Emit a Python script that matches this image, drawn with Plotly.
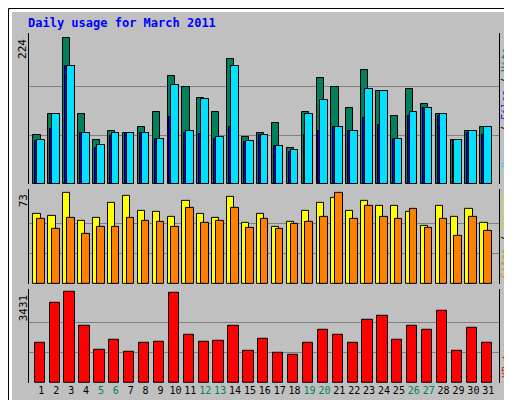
import plotly.graph_objects as go

days = list(range(1, 32))
hits = [76,107,224,108,67,82,79,88,111,165,149,132,111,192,73,79,94,55,111,162,148,117,175,143,105,146,122,107,67,82,88]
files = [67,107,181,78,60,79,79,79,70,151,81,130,72,181,66,75,59,52,108,128,87,82,146,142,70,110,116,107,67,82,88]
pages = [66,84,181,78,56,74,78,79,70,103,79,77,70,88,64,75,58,50,76,81,87,82,102,91,69,104,116,105,67,79,75]
visits = [56,55,73,51,53,65,71,59,58,54,67,56,53,70,49,56,46,50,59,65,69,59,67,63,63,58,47,63,54,60,49]
sites = [52,44,53,40,46,46,53,51,50,46,61,49,51,61,45,52,44,48,50,54,73,52,63,54,52,60,45,52,39,54,43]
kbytes = [1508,3017,3431,2149,1244,1621,1169,1508,1546,3394,1810,1546,1584,2149,1207,1659,1131,1056,1508,1999,1810,1508,2376,2527,1621,2149,1999,2715,1207,2074,1508]
weekend = [5, 6, 12, 13, 19, 20, 26, 27]
top_max, mid_max, bot_max = 224, 73, 3431

GREEN, BLUE, CYAN = "#00805C", "#0000FF", "#00E0FF"
YEL, ORG, RED = "#FFFF00", "#FF8000", "#FF0000"
line = dict(color="black", width=1)

fig = go.Figure()
def bar(y, color, off, w, ax):
    fig.add_trace(go.Bar(x=days, y=y, marker=dict(color=color, line=line),
                         offset=off, width=w, xaxis="x", yaxis=ax, showlegend=False))

bar(hits, GREEN, -0.53, 0.48, "y")
bar(pages, BLUE, -0.40, 0.64, "y")
bar(files, CYAN, -0.27, 0.51, "y")
bar(visits, YEL, -0.53, 0.48, "y2")
bar(sites, ORG, -0.27, 0.51, "y2")
bar(kbytes, RED, -0.45, 0.69, "y3")

W, H = 512, 400
L, R, T, B = 21, 21.3, 25, 24.7
ph = H - T - B
def py(px):
    return (H - B - px) / ph
def px_x(px):
    return (px - L) / (W - L - R)

ticktext = [f"<span style='color:{GREEN}'>{d}</span>" if d in weekend else str(d) for d in days]
yax = dict(showticklabels=False, ticks="", showgrid=True, gridcolor="#808080", gridwidth=1,
           zeroline=False, showline=True, linecolor="black", mirror=True, linewidth=1)
fig.update_layout(
    width=W, height=H, margin=dict(l=L, r=R, t=T, b=B),
    paper_bgcolor="#C0C0C0", plot_bgcolor="#C0C0C0",
    barmode="overlay", bargap=0,
    font=dict(family="DejaVu Sans Mono", size=11, color="black"),
    xaxis=dict(range=[0.17, 31.72], tickvals=days, ticktext=ticktext, ticks="", tickangle=0,
               showgrid=False, zeroline=False, anchor="y3", tickfont=dict(size=10)),
    yaxis=dict(domain=[py(176.5), 1], range=[0, top_max * 231 / 224],
               tickvals=[top_max / 3, top_max * 2 / 3], **yax),
    yaxis2=dict(domain=[py(276.3), py(181)], range=[0, mid_max * 76.4 / 73],
                tickvals=[mid_max / 3, mid_max * 2 / 3], **yax),
    yaxis3=dict(domain=[0, py(281)], range=[0, bot_max * 3555 / 3431],
                tickvals=[bot_max / 3, bot_max * 2 / 3], **yax),
)

ann = [
    dict(text="<b>Daily usage for March 2011</b>", x=px_x(18), y=py(15), xanchor="left", yanchor="middle",
         font=dict(color="#0000FF", size=12, family="DejaVu Sans Mono")),
    dict(text=str(top_max), x=px_x(15), y=py(29), textangle=-90, xanchor="center", yanchor="top",
         font=dict(size=11)),
    dict(text=str(mid_max), x=px_x(15), y=py(184), textangle=-90, xanchor="center", yanchor="top",
         font=dict(size=11)),
    dict(text=str(bot_max), x=px_x(15), y=py(284), textangle=-90, xanchor="center", yanchor="top",
         font=dict(size=11)),
    dict(text=f"<span style='color:{CYAN}'>Pages</span> / <span style='color:{BLUE}'>Files</span> / <span style='color:{GREEN}'>Hits</span>",
         x=px_x(498), y=py(100), textangle=-90, xanchor="center", yanchor="middle", font=dict(size=10)),
    dict(text=f"<span style='color:{ORG}'>Sites</span> / <span style='color:#E0E000'>Visits</span>",
         x=px_x(498), y=py(228), textangle=-90, xanchor="center", yanchor="middle", font=dict(size=10)),
    dict(text=f"<span style='color:{RED}'>KBytes</span>",
         x=px_x(498), y=py(352), textangle=-90, xanchor="center", yanchor="middle", font=dict(size=10)),
]
for a in ann:
    a.update(xref="paper", yref="paper", showarrow=False)
fig.update_layout(annotations=ann)

shapes = [
    dict(type="rect", x0=px_x(0.5), x1=px_x(511.5), y0=py(399.5), y1=py(0.5), line=dict(color="black", width=1)),
    dict(type="line", x0=px_x(508), x1=px_x(508), y0=py(395), y1=py(5), line=dict(color="#808080", width=4)),
    dict(type="line", x0=px_x(5), x1=px_x(509), y0=py(397), y1=py(397), line=dict(color="#808080", width=4)),
    dict(type="line", x0=px_x(2), x1=px_x(505), y0=py(2.5), y1=py(2.5), line=dict(color="white", width=3)),
    dict(type="line", x0=px_x(2.5), x1=px_x(2.5), y0=py(395), y1=py(2), line=dict(color="white", width=3)),
]
for s in shapes:
    s.update(xref="paper", yref="paper", layer="below")
fig.update_layout(shapes=shapes)

fig.write_html("out.html")
